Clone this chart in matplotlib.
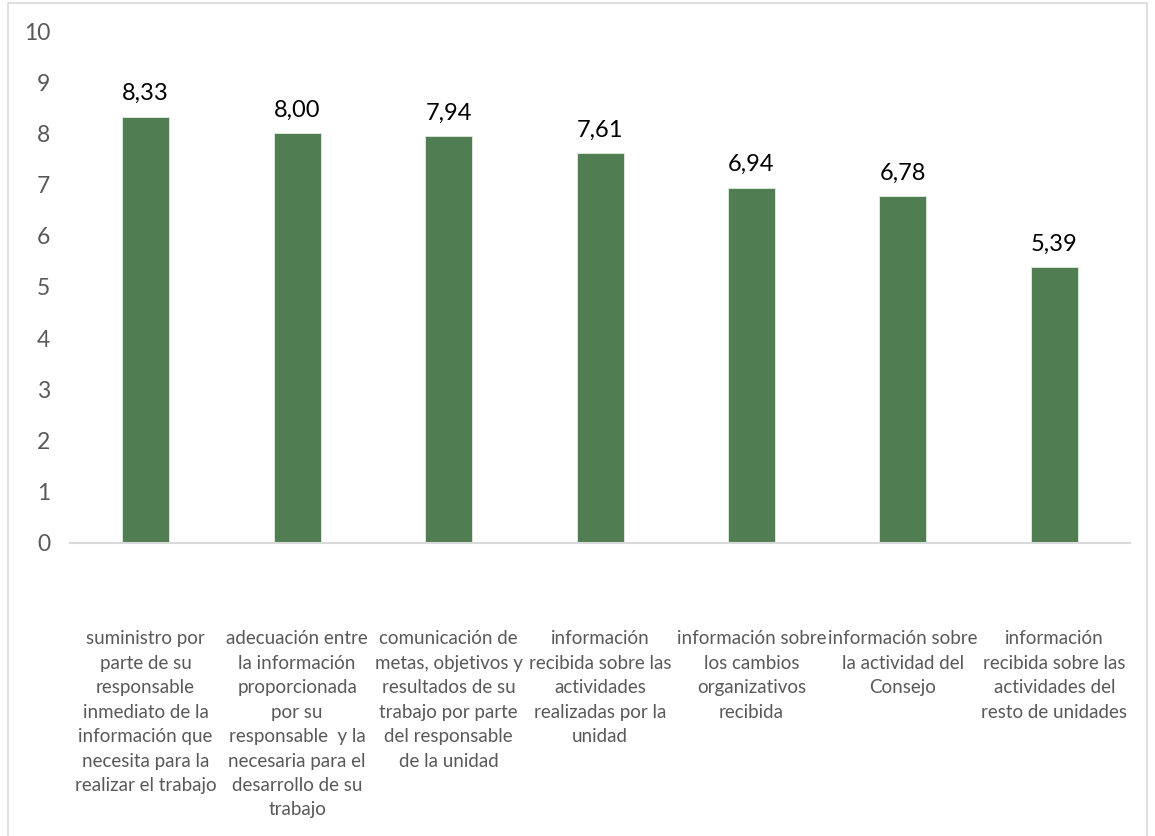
import matplotlib.pyplot as plt
from matplotlib.patches import Rectangle

categorias = [
    "suministro por\nparte de su\nresponsable\ninmediato de la\ninformación que\nnecesita para la\nrealizar el trabajo",
    "adecuación entre\nla información\nproporcionada\npor su\nresponsable  y la\nnecesaria para el\ndesarrollo de su\ntrabajo",
    "comunicación de\nmetas, objetivos y\nresultados de su\ntrabajo por parte\ndel responsable\nde la unidad",
    "información\nrecibida sobre las\nactividades\nrealizadas por la\nunidad",
    "información sobre\nlos cambios\norganizativos\nrecibida",
    "información sobre\nla actividad del\nConsejo",
    "información\nrecibida sobre las\nactividades del\nresto de unidades",
]
valores = [8.33, 8.00, 7.94, 7.61, 6.94, 6.78, 5.39]
yticks = list(range(0, 11))

plt.rcParams['font.family'] = ['Lato', 'DejaVu Sans']

fig = plt.figure(figsize=(11.55, 8.36), dpi=100)
fig.patches.append(Rectangle((8 / 1155, -0.01), 1139 / 1155, 1 - 3 / 836 + 0.01,
                             transform=fig.transFigure, fill=False,
                             edgecolor='#d9d9d9', linewidth=1.2))
ax = fig.add_axes([0.0605, 0.3505, 0.918, 0.6124])

x = range(len(valores))
bars = ax.bar(x, valores, width=0.31, color='#507e52', edgecolor='#e2ece2', linewidth=0.6)
for b, v in zip(bars, valores):
    ax.annotate("{:.2f}".format(v).replace('.', ','),
                (b.get_x() + b.get_width() / 2, v),
                xytext=(0, 9), textcoords='offset points',
                ha='center', va='bottom', fontsize=17, color='black')

ax.set_xlim(-0.5, len(valores) - 0.5)
ax.set_ylim(0, 10)
ax.set_yticks(yticks)
ax.set_yticklabels([str(t) for t in yticks], fontsize=16.5, color='#595959')
ax.set_xticks(list(x))
ax.set_xticklabels(categorias, fontsize=13.5, color='#595959', linespacing=1.53, va='top')
ax.tick_params(axis='x', length=0, pad=63)
ax.tick_params(axis='y', length=0, pad=14)

for s in ['top', 'right', 'left']:
    ax.spines[s].set_visible(False)
ax.spines['bottom'].set_color('#d9d9d9')
ax.spines['bottom'].set_linewidth(1.5)

fig.savefig('out.png', dpi=100)
